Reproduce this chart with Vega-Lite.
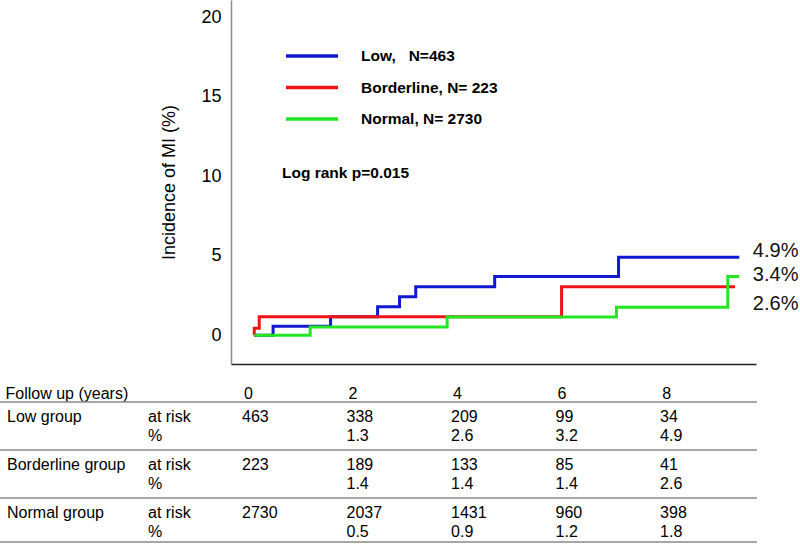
{
  "$schema": "https://vega.github.io/schema/vega-lite/v6.json",
  "width": 800,
  "height": 544,
  "padding": 0,
  "autosize": "none",
  "background": "white",
  "config": {"view": {"stroke": null}, "font": "Liberation Sans"},
  "datasets": {
    "km": [
      {"series": "Low,\u00a0\u00a0 N=463", "year": 0.12, "incidence": 0},
      {"series": "Low,\u00a0\u00a0 N=463", "year": 0.48, "incidence": 0.57},
      {"series": "Low,\u00a0\u00a0 N=463", "year": 1.58, "incidence": 1.17},
      {"series": "Low,\u00a0\u00a0 N=463", "year": 2.48, "incidence": 1.8},
      {"series": "Low,\u00a0\u00a0 N=463", "year": 2.9, "incidence": 2.43},
      {"series": "Low,\u00a0\u00a0 N=463", "year": 3.21, "incidence": 3.06},
      {"series": "Low,\u00a0\u00a0 N=463", "year": 4.72, "incidence": 3.69},
      {"series": "Low,\u00a0\u00a0 N=463", "year": 7.09, "incidence": 4.9},
      {"series": "Low,\u00a0\u00a0 N=463", "year": 9.4, "incidence": 4.9},
      {"series": "Borderline, N= 223", "year": 0.115, "incidence": 0},
      {"series": "Borderline, N= 223", "year": 0.12, "incidence": 0.45},
      {"series": "Borderline, N= 223", "year": 0.215, "incidence": 1.17},
      {"series": "Borderline, N= 223", "year": 6.0, "incidence": 3.06},
      {"series": "Borderline, N= 223", "year": 9.32, "incidence": 3.06},
      {"series": "Normal, N= 2730", "year": 0.12, "incidence": 0},
      {"series": "Normal, N= 2730", "year": 1.19, "incidence": 0.52},
      {"series": "Normal, N= 2730", "year": 3.81, "incidence": 1.15},
      {"series": "Normal, N= 2730", "year": 7.05, "incidence": 1.76},
      {"series": "Normal, N= 2730", "year": 9.18, "incidence": 3.69},
      {"series": "Normal, N= 2730", "year": 9.4, "incidence": 3.69}
    ],
    "endLabels": [
      {"label": "4.9%", "incidence": 5.3},
      {"label": "3.4%", "incidence": 3.79},
      {"label": "2.6%", "incidence": 1.97}
    ],
    "groups": [
      {"group": "Low group"},
      {"group": "Borderline group"},
      {"group": "Normal group"}
    ],
    "table": [
      {"group": "Low group", "measure": "at risk", "year": 0, "value": 463},
      {"group": "Low group", "measure": "at risk", "year": 2, "value": 338},
      {"group": "Low group", "measure": "at risk", "year": 4, "value": 209},
      {"group": "Low group", "measure": "at risk", "year": 6, "value": 99},
      {"group": "Low group", "measure": "at risk", "year": 8, "value": 34},
      {"group": "Low group", "measure": "%", "year": 2, "value": 1.3},
      {"group": "Low group", "measure": "%", "year": 4, "value": 2.6},
      {"group": "Low group", "measure": "%", "year": 6, "value": 3.2},
      {"group": "Low group", "measure": "%", "year": 8, "value": 4.9},
      {"group": "Borderline group", "measure": "at risk", "year": 0, "value": 223},
      {"group": "Borderline group", "measure": "at risk", "year": 2, "value": 189},
      {"group": "Borderline group", "measure": "at risk", "year": 4, "value": 133},
      {"group": "Borderline group", "measure": "at risk", "year": 6, "value": 85},
      {"group": "Borderline group", "measure": "at risk", "year": 8, "value": 41},
      {"group": "Borderline group", "measure": "%", "year": 2, "value": 1.4},
      {"group": "Borderline group", "measure": "%", "year": 4, "value": 1.4},
      {"group": "Borderline group", "measure": "%", "year": 6, "value": 1.4},
      {"group": "Borderline group", "measure": "%", "year": 8, "value": 2.6},
      {"group": "Normal group", "measure": "at risk", "year": 0, "value": 2730},
      {"group": "Normal group", "measure": "at risk", "year": 2, "value": 2037},
      {"group": "Normal group", "measure": "at risk", "year": 4, "value": 1431},
      {"group": "Normal group", "measure": "at risk", "year": 6, "value": 960},
      {"group": "Normal group", "measure": "at risk", "year": 8, "value": 398},
      {"group": "Normal group", "measure": "%", "year": 2, "value": 0.5},
      {"group": "Normal group", "measure": "%", "year": 4, "value": 0.9},
      {"group": "Normal group", "measure": "%", "year": 6, "value": 1.2},
      {"group": "Normal group", "measure": "%", "year": 8, "value": 1.8}
    ]
  },
  "layer": [
    {
      "layer": [
        {
          "data": {"name": "km"},
          "mark": {"type": "line", "interpolate": "step-after", "strokeWidth": 3},
          "encoding": {
            "x": {
              "field": "year",
              "type": "quantitative",
              "scale": {"domain": [-0.325, 9.72], "range": [231, 756], "nice": false, "zero": false},
              "axis": {
                "offset": -180,
                "values": [0, 2, 4, 6, 8],
                "format": "d",
                "grid": false,
                "ticks": false,
                "tickSize": 0,
                "domainColor": "#222222",
                "domainWidth": 1.5,
                "labelFlush": false,
                "labelFont": "Liberation Sans",
                "labelFontSize": 16,
                "labelColor": "#000000",
                "labelBaseline": "middle",
                "labelPadding": 29,
                "title": "Follow up (years)",
                "titleX": 5,
                "titleY": 29,
                "titleAlign": "left",
                "titleBaseline": "middle",
                "titleFont": "Liberation Sans",
                "titleFontSize": 16,
                "titleFontWeight": "normal",
                "titleColor": "#000000"
              }
            },
            "y": {
              "field": "incidence",
              "type": "quantitative",
              "scale": {"domain": [-1.8, 21.07], "range": [364, 0], "nice": false, "zero": false},
              "axis": {
                "offset": -231,
                "values": [0, 5, 10, 15, 20],
                "grid": false,
                "ticks": false,
                "tickSize": 0,
                "domainColor": "#8a8a8a",
                "domainWidth": 1.5,
                "labelFlush": false,
                "labelFont": "Liberation Sans",
                "labelFontSize": 18,
                "labelColor": "#000000",
                "labelPadding": 10,
                "title": "Incidence of MI (%)",
                "titleFont": "Liberation Sans",
                "titleFontSize": 18,
                "titleFontWeight": "normal",
                "titleColor": "#000000",
                "titlePadding": 22
              }
            },
            "color": {
              "field": "series",
              "type": "nominal",
              "scale": {
                "domain": ["Low,\u00a0\u00a0 N=463", "Borderline, N= 223", "Normal, N= 2730"],
                "range": ["#1018d2", "#f01414", "#22e622"]
              },
              "legend": {
                "orient": "none",
                "legendX": 284,
                "legendY": 46,
                "title": null,
                "padding": 0,
                "symbolType": "stroke",
                "symbolSize": 2704,
                "symbolStrokeWidth": 3.5,
                "clipHeight": 20,
                "rowPadding": 11.5,
                "labelOffset": 21,
                "labelLimit": 300,
                "labelFont": "Liberation Sans",
                "labelFontSize": 15.5,
                "labelFontWeight": "bold",
                "labelColor": "#000000"
              }
            }
          }
        },
        {
          "data": {"name": "endLabels"},
          "mark": {"type": "text", "align": "left", "baseline": "middle", "font": "Liberation Sans", "fontSize": 20, "color": "#111111"},
          "encoding": {
            "x": {"datum": 9.66},
            "y": {"field": "incidence", "type": "quantitative"},
            "text": {"field": "label"}
          }
        },
        {
          "data": {"values": [{"note": "Log rank p=0.015"}]},
          "mark": {"type": "text", "align": "left", "baseline": "middle", "font": "Liberation Sans", "fontSize": 15.5, "fontWeight": "bold", "color": "#000000"},
          "encoding": {
            "x": {"datum": 0.651},
            "y": {"datum": 10.2},
            "text": {"field": "note"}
          }
        }
      ]
    },
    {
      "layer": [
        {
          "data": {"name": "groups"},
          "mark": {"type": "rule", "color": "#888888", "strokeWidth": 1.5},
          "encoding": {
            "x": {"datum": -4.745},
            "x2": {"datum": 9.738},
            "y": {
              "field": "group",
              "type": "nominal",
              "bandPosition": 0,
              "scale": {"type": "band", "domain": ["Low group", "Borderline group", "Normal group"], "range": [402, 546], "paddingInner": 0, "paddingOuter": 0},
              "axis": null
            }
          }
        },
        {
          "data": {"name": "groups"},
          "transform": [{"filter": "datum.group === 'Normal group'"}],
          "mark": {"type": "rule", "color": "#888888", "strokeWidth": 1.5},
          "encoding": {
            "x": {"datum": -4.745},
            "x2": {"datum": 9.738},
            "y": {"field": "group", "type": "nominal", "bandPosition": 0.9167}
          }
        },
        {
          "data": {"name": "table"},
          "transform": [{"filter": "datum.measure === 'at risk' && datum.year === 0"}],
          "mark": {"type": "text", "align": "left", "baseline": "middle", "font": "Liberation Sans", "fontSize": 16, "color": "#000000"},
          "encoding": {
            "x": {"datum": -4.61},
            "y": {"field": "group", "type": "nominal", "bandPosition": 0},
            "yOffset": {"field": "measure", "type": "nominal", "scale": {"type": "point", "domain": ["at risk", "%"], "range": [15, 34], "padding": 0}},
            "text": {"field": "group"}
          }
        },
        {
          "data": {"name": "table"},
          "transform": [{"filter": "datum.year === 2"}],
          "mark": {"type": "text", "align": "left", "baseline": "middle", "font": "Liberation Sans", "fontSize": 16, "color": "#000000"},
          "encoding": {
            "x": {"datum": -1.913},
            "y": {"field": "group", "type": "nominal", "bandPosition": 0},
            "yOffset": {"field": "measure", "type": "nominal", "scale": {"type": "point", "domain": ["at risk", "%"], "range": [15, 34], "padding": 0}},
            "text": {"field": "measure"}
          }
        },
        {
          "data": {"name": "table"},
          "mark": {"type": "text", "align": "left", "baseline": "middle", "font": "Liberation Sans", "fontSize": 16, "color": "#000000", "dx": -6},
          "encoding": {
            "x": {"field": "year", "type": "quantitative"},
            "y": {"field": "group", "type": "nominal", "bandPosition": 0},
            "yOffset": {"field": "measure", "type": "nominal", "scale": {"type": "point", "domain": ["at risk", "%"], "range": [15, 34], "padding": 0}},
            "text": {"field": "value", "type": "quantitative", "format": "~g"}
          }
        }
      ]
    }
  ],
  "resolve": {"scale": {"y": "independent"}}
}
